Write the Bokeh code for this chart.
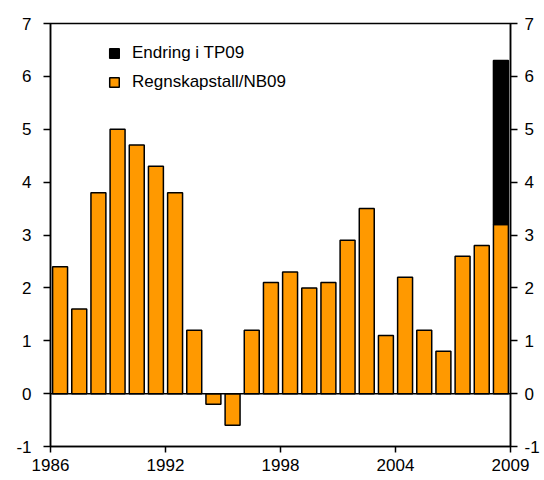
from bokeh.plotting import figure
from bokeh.models import Range1d, LinearAxis, FixedTicker, Span, Legend, LegendItem, ColumnDataSource
from bokeh.embed import file_html
from bokeh.resources import INLINE

years = list(range(1986, 2010))
regnskap = [2.4, 1.6, 3.8, 5.0, 4.7, 4.3, 3.8, 1.2, -0.2, -0.6, 1.2, 2.1,
            2.3, 2.0, 2.1, 2.9, 3.5, 1.1, 2.2, 1.2, 0.8, 2.6, 2.8, 3.2]
endring = [0] * 23 + [3.1]
x_ticks = [1986, 1992, 1998, 2004, 2010]
x_tick_labels = ["1986", "1992", "1998", "2004", "2009"]
y_ticks = [-1, 0, 1, 2, 3, 4, 5, 6, 7]
y_tick_labels = ["-1", "0", "1", "2", "3", "4", "5", "6", "7"]
label_endring = "Endring i TP09"
label_regnskap = "Regnskapstall/NB09"

FONT = "Liberation Sans"
ORANGE = "#FF9900"

p = figure(frame_width=460, frame_height=423, output_backend="svg", toolbar_location=None,
           x_range=Range1d(1986, 2010), y_range=Range1d(-1, 7),
           min_border_left=50, min_border_right=10, min_border_top=23, min_border_bottom=10,
           y_axis_location="left")
p.grid.visible = False
p.outline_line_color = "black"
p.outline_line_width = 1.5
p.background_fill_color = "white"
p.border_fill_color = "white"

src_o = ColumnDataSource(dict(x=[y + 0.5 for y in years], top=regnskap))
r_o = p.vbar(x="x", top="top", bottom=0, width=0.78, source=src_o,
             fill_color=ORANGE, line_color="black", line_width=1.5)

ex = [y + 0.5 for y, e in zip(years, endring) if e != 0]
eb = [r for r, e in zip(regnskap, endring) if e != 0]
et = [r + e for r, e in zip(regnskap, endring) if e != 0]
src_b = ColumnDataSource(dict(x=ex, bottom=eb, top=et))
r_b = p.vbar(x="x", top="top", bottom="bottom", width=0.78, source=src_b,
             fill_color="black", line_color="black", line_width=1.5)

p.add_layout(Span(location=0, dimension="width", line_color="black", line_width=1.5))

def style(ax):
    ax.axis_line_color = "black"
    ax.axis_line_width = 1.5
    ax.major_tick_line_color = "black"
    ax.major_tick_line_width = 1.5
    ax.minor_tick_line_color = None
    ax.major_tick_in = 0
    ax.major_label_text_font = FONT
    ax.major_label_text_font_size = "17px"
    ax.major_label_text_color = "black"

xa = p.xaxis[0]
style(xa)
xa.ticker = FixedTicker(ticks=x_ticks)
xa.major_label_overrides = {t: l for t, l in zip(x_ticks, x_tick_labels)}
xa.major_tick_out = 6
xa.major_label_standoff = 6

ya = p.yaxis[0]
style(ya)
ya.ticker = FixedTicker(ticks=y_ticks)
ya.major_label_overrides = {t: l for t, l in zip(y_ticks, y_tick_labels)}
ya.major_tick_out = 7
ya.major_label_standoff = 12

yr = LinearAxis()
style(yr)
yr.ticker = FixedTicker(ticks=y_ticks)
yr.major_label_overrides = {t: l for t, l in zip(y_ticks, y_tick_labels)}
yr.major_tick_out = 7
yr.major_label_standoff = 7
p.add_layout(yr, "right")

legend = Legend(items=[LegendItem(label=label_endring, renderers=[r_b]),
                       LegendItem(label=label_regnskap, renderers=[r_o])],
                location=(58, 354), orientation="vertical",
                border_line_color=None, background_fill_alpha=0,
                glyph_width=12, glyph_height=12, label_height=20,
                label_standoff=12, spacing=9, padding=4, margin=0,
                label_text_font=FONT, label_text_font_size="17px",
                label_text_color="black")
p.add_layout(legend, "center")

open("out.html", "w").write(file_html(p, INLINE))
